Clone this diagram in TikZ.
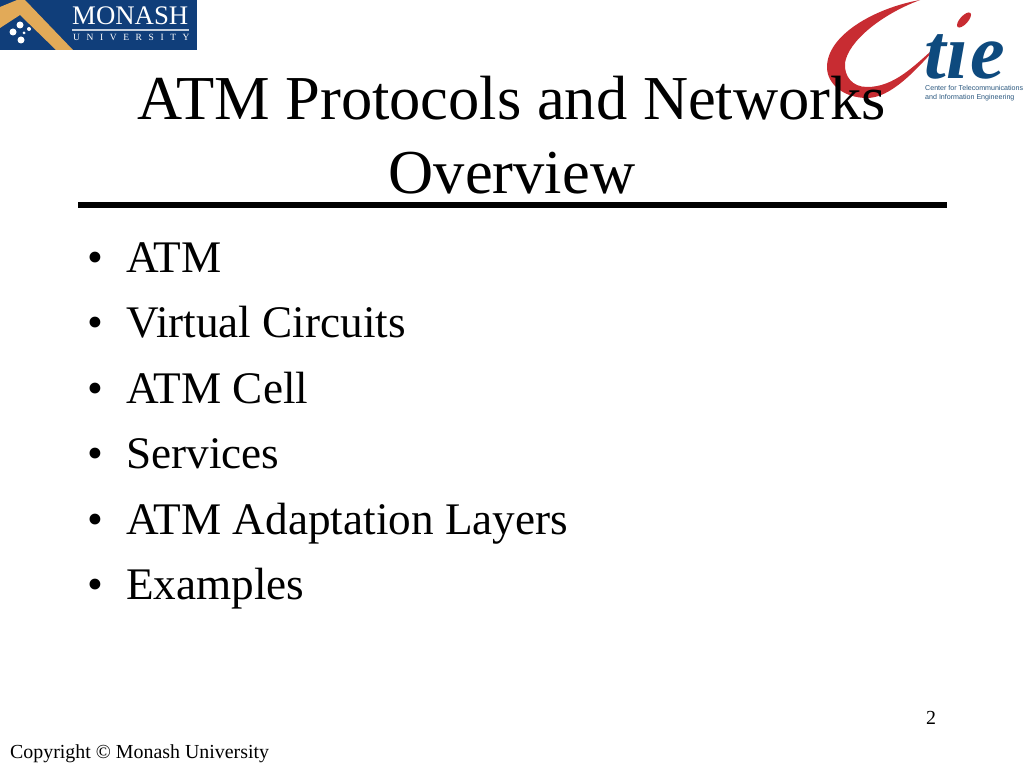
\documentclass[tikz,border=0pt]{standalone}
\usepackage{fontspec}
\setmainfont{Liberation Serif}
\newfontfamily\logosans{Liberation Sans}
\usetikzlibrary{positioning}
\definecolor{monashblue}{RGB}{16,62,122}
\definecolor{monashgold}{RGB}{226,170,88}
\definecolor{ctiered}{RGB}{200,44,50}
\definecolor{ctieblue}{RGB}{14,74,126}
\tikzset{
  title/.style={inner sep=0pt, align=center, font=\fontsize{62.5}{74}\selectfont},
  item/.style={inner sep=0pt, anchor=base west, font=\fontsize{45.2}{50}\selectfont},
  dot/.style={inner sep=0pt, anchor=base, font=\fontsize{45.2}{50}\selectfont},
  small/.style={inner sep=0pt, anchor=base west, font=\fontsize{19.9}{20}\selectfont},
  star/.style={circle, fill=white, inner sep=0pt, minimum size=#1},
  ctiesmall/.style={inner sep=0pt, anchor=base west, text=ctieblue!75!gray, font=\logosans\fontsize{7.1}{8}\selectfont}
}
\begin{document}
\begin{tikzpicture}[x=1pt, y=1pt]
\useasboundingbox (0,0) rectangle (1024,-768);
\fill[white] (0,0) rectangle (1024,-768);
% monash logo
\fill[monashblue] (0,0) rectangle (197,-50);
\fill[monashgold] (17,0) -- (25,0) -- (73,-50) -- (56,-50) -- (20,-15) -- (0,-28) -- (0,-7) -- cycle;
\node[star=7pt] (star1) at (20,-25) {};
\node[star=7pt] (star2) at (13,-32) {};
\node[star=4pt] (star3) at (29,-29) {};
\node[star=3pt] (star4) at (24,-33) {};
\node[star=7pt] (star5) at (21,-40) {};
\node[inner sep=0pt, anchor=base west, text=white, font=\fontsize{26.8}{28}\selectfont] (monash) at (72,-25) {MONASH};
\fill[white!75!monashblue] (72,-29.5) rectangle (189,-31);
\node[inner sep=0pt, anchor=base west, text=white, font=\fontsize{9.5}{10}\selectfont] (university) at (73,-41) {U\hskip 6.6pt N\hskip 6.6pt I\hskip 6.6pt V\hskip 6.6pt E\hskip 6.6pt R\hskip 6.6pt S\hskip 6.6pt I\hskip 6.6pt T\hskip 6.6pt Y};
% ctie logo
\fill[ctiered] (920,0) .. controls (875,-8) and (827,-35) .. (827,-67)
  .. controls (827,-85) and (845,-98) .. (867,-98)
  .. controls (890,-98) and (915,-72) .. (940,-43)
  .. controls (915,-65) and (895,-87) .. (867,-87)
  .. controls (852,-87) and (844,-76) .. (845,-63)
  .. controls (848,-42) and (880,-15) .. cycle;
\node[inner sep=0pt, anchor=base west, text=ctieblue, text depth=0pt, font=\bfseries\itshape\fontsize{78}{78}\selectfont] (tie) at (924,-78) {t\hskip 1pt ı\hskip 2pt e};
\fill[ctiered, rotate around={48:(964,-20)}] (964,-20) ellipse (9.5pt and 4pt);
\node[ctiesmall] (center) at (925,-90) {Center for Telecommunications};
\node[ctiesmall] (information) at (925,-99) {and Information Engineering};
% title
\node[title] (head) at (512,-135) {ATM Protocols and Networks\\Overview};
\fill[black] (78,-202) rectangle (947,-208);
% bullets
\node[item] (item1) at (126,-272) {ATM};
\node[item, below=65.5pt of item1.base west, anchor=base west] (item2) {Virtual Circuits};
\node[item, below=65.5pt of item2.base west, anchor=base west] (item3) {ATM Cell};
\node[item, below=65.5pt of item3.base west, anchor=base west] (item4) {Services};
\node[item, below=65.5pt of item4.base west, anchor=base west] (item5) {ATM Adaptation Layers};
\node[item, below=65.5pt of item5.base west, anchor=base west] (item6) {Examples};
\foreach \n in {1,...,6}
  \node[dot, left=31pt of item\n.base west, anchor=base] (dot\n) {•};
% footer
\node[small] (page) at (926,-724) {2};
\node[small] (copy) at (10,-758) {Copyright © Monash University};
\end{tikzpicture}
\end{document}
